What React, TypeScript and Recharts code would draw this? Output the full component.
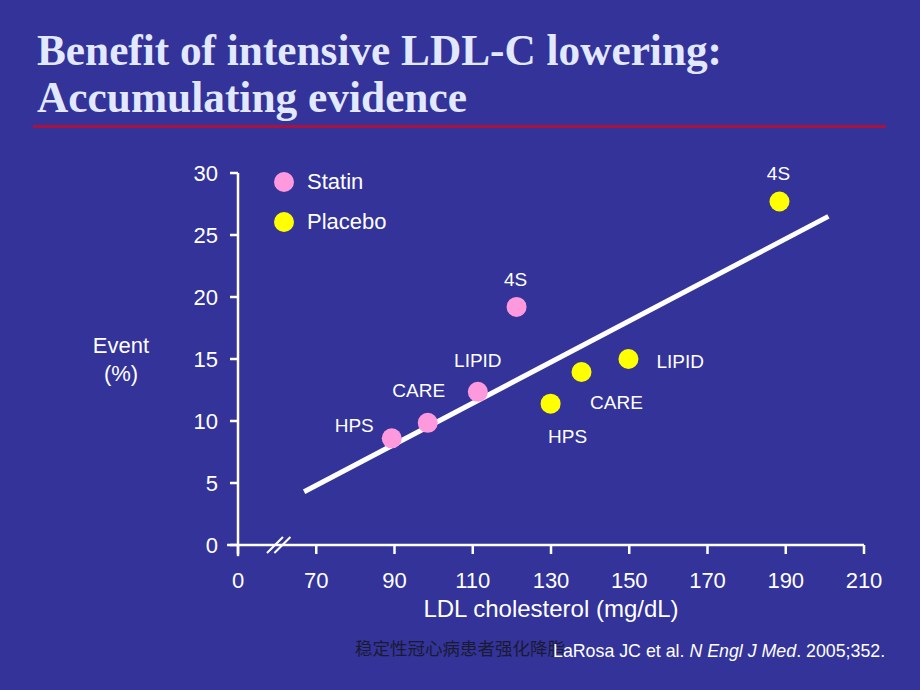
import { ScatterChart, Scatter, XAxis, YAxis, ReferenceLine } from 'recharts';

// LDL-C (mg/dL) vs event rate (%) for statin and placebo arms
const trialNames = ['HPS', 'CARE', 'LIPID', '4S'];
const statinLdl = [89.3, 98.5, 111.3, 121.2];
const statinEvent = [8.6, 9.85, 12.35, 19.2];
const placeboLdl = [129.9, 137.8, 149.8, 188.4];
const placeboEvent = [11.4, 13.95, 15.0, 27.7];
const trendLdl = [66.9, 200.9];
const trendEvent = [4.3, 26.5];

// x axis is broken: the "50" position is labelled 0
const xTicks = [50, 70, 90, 110, 130, 150, 170, 190, 210];
const xTickLabels = ['0', '70', '90', '110', '130', '150', '170', '190', '210'];
const yTicks = [0, 5, 10, 15, 20, 25, 30];

const BG = '#333399';
const PINK = '#FF99DD';
const YELLOW = '#FFFF00';
const SANS = '"Liberation Sans", Arial, sans-serif';
const SERIF = '"Liberation Serif", "Times New Roman", serif';

const statinData = trialNames.map((name, i) => ({ name, ldl: statinLdl[i], event: statinEvent[i] }));
const placeboData = trialNames.map((name, i) => ({ name, ldl: placeboLdl[i], event: placeboEvent[i] }));
const trendData = trendLdl.map((ldl, i) => ({ ldl, event: trendEvent[i] }));

// label placement relative to each dot
const statinLabelPos: Record<string, { dx: number; dy: number; anchor: string }> = {
    HPS: { dx: -18, dy: -13, anchor: 'end' },
    CARE: { dx: -9, dy: -32, anchor: 'middle' },
    LIPID: { dx: 0, dy: -31, anchor: 'middle' },
    '4S': { dx: -1, dy: -27, anchor: 'middle' },
};
const placeboLabelPos: Record<string, { dx: number; dy: number; anchor: string }> = {
    HPS: { dx: 17, dy: 33, anchor: 'middle' },
    CARE: { dx: 35, dy: 30, anchor: 'middle' },
    LIPID: { dx: 28, dy: 2, anchor: 'start' },
    '4S': { dx: -1, dy: -28, anchor: 'middle' },
};

const makeDot = (color: string, pos: typeof statinLabelPos) => (props: any) => {
    const { cx, cy, payload } = props;
    const p = pos[payload.name];
    return (
        <g>
            <circle cx={cx} cy={cy} r={10} fill={color} />
            <text
                x={cx + p.dx}
                y={cy + p.dy}
                textAnchor={p.anchor}
                dominantBaseline="central"
                fill="#fff"
                fontSize={19}
                fontFamily={SANS}
            >
                {payload.name}
            </text>
        </g>
    );
};

const legendItems = [
    { label: 'Statin', color: PINK },
    { label: 'Placebo', color: YELLOW },
];

const axisStroke = { stroke: '#fff', strokeWidth: 2.5 };

export default function App() {
    return (
        <div style={{ position: 'absolute', left: 0, top: 0, width: 920, height: 690, background: BG, overflow: 'hidden' }}>
            <svg width={920} height={140} style={{ position: 'absolute', left: 0, top: 0 }}>
                <text x={37} y={65} fill="#E2E8FF" fontSize={44} fontWeight="bold" fontFamily={SERIF} textLength={685} lengthAdjust="spacingAndGlyphs">
                    Benefit of intensive LDL-C lowering:
                </text>
                <text x={37} y={112} fill="#E2E8FF" fontSize={44} fontWeight="bold" fontFamily={SERIF} textLength={430} lengthAdjust="spacingAndGlyphs">
                    Accumulating evidence
                </text>
                <rect x={33} y={125} width={853} height={3} fill="#A8123E" />
            </svg>

            <div style={{ position: 'absolute', left: 0, top: 0 }}>
                <ScatterChart width={920} height={690} margin={{ top: 173, right: 56, bottom: 65, left: 178 }}>
                    <XAxis
                        type="number"
                        dataKey="ldl"
                        domain={[50, 210]}
                        ticks={xTicks}
                        tickFormatter={(v: number) => xTickLabels[xTicks.indexOf(v)]}
                        allowDataOverflow
                        height={80}
                        axisLine={axisStroke}
                        tickLine={axisStroke}
                        tickSize={9}
                        tickMargin={18}
                        tick={{ fill: '#fff', fontSize: 22, fontFamily: SANS }}
                        label={{ value: 'LDL cholesterol (mg/dL)', position: 'insideBottom', offset: 8, fill: '#fff', fontSize: 24, fontFamily: SANS }}
                    />
                    <YAxis
                        type="number"
                        dataKey="event"
                        domain={[0, 30]}
                        ticks={yTicks}
                        width={60}
                        axisLine={axisStroke}
                        tickLine={axisStroke}
                        tickSize={8}
                        tickMargin={12}
                        tick={{ fill: '#fff', fontSize: 22, fontFamily: SANS }}
                        label={{
                            content: () => (
                                <text x={121} fill="#fff" fontSize={22} fontFamily={SANS} textAnchor="middle">
                                    <tspan x={121} y={353}>Event</tspan>
                                    <tspan x={121} y={381}>(%)</tspan>
                                </text>
                            ),
                        }}
                    />
                    {/* axis overhangs and the break mark on the x axis */}
                    <ReferenceLine segment={[{ x: 47.2, y: 0 }, { x: 50, y: 0 }]} ifOverflow="visible" {...axisStroke} />
                    <ReferenceLine segment={[{ x: 50, y: 0 }, { x: 50, y: -0.9 }]} ifOverflow="visible" {...axisStroke} />
                    <ReferenceLine segment={[{ x: 57.4, y: -0.65 }, { x: 61.5, y: 0.65 }]} ifOverflow="visible" stroke="#fff" strokeWidth={2} />
                    <ReferenceLine segment={[{ x: 59.3, y: -0.65 }, { x: 63.4, y: 0.65 }]} ifOverflow="visible" stroke="#fff" strokeWidth={2} />

                    <Scatter
                        data={trendData}
                        line={{ stroke: '#fff', strokeWidth: 5 }}
                        shape={() => <g />}
                        isAnimationActive={false}
                        legendType="none"
                    />
                    <Scatter data={statinData} shape={makeDot(PINK, statinLabelPos)} isAnimationActive={false} />
                    <Scatter data={placeboData} shape={makeDot(YELLOW, placeboLabelPos)} isAnimationActive={false} />
                </ScatterChart>
            </div>

            {/* legend, inside the plot at the top left */}
            <div style={{ position: 'absolute', left: 274, top: 162, fontFamily: SANS, fontSize: 22, color: '#fff' }}>
                {legendItems.map((item) => (
                    <div key={item.label} style={{ display: 'flex', alignItems: 'center', height: 40 }}>
                        <span style={{ width: 20, height: 20, borderRadius: 10, background: item.color, marginRight: 13 }} />
                        <span>{item.label}</span>
                    </div>
                ))}
            </div>

            <div style={{ position: 'absolute', left: 355, top: 635, fontFamily: '"Noto Sans CJK SC", serif', fontSize: 17.5, color: '#1A1A33', whiteSpace: 'nowrap' }}>
                稳定性冠心病患者强化降脂
            </div>
            <div style={{ position: 'absolute', left: 553, top: 641, fontFamily: SANS, fontSize: 17.8, color: '#fff', whiteSpace: 'nowrap' }}>
                LaRosa JC et al. <i>N Engl J Med</i>. 2005;352.
            </div>
        </div>
    );
}
